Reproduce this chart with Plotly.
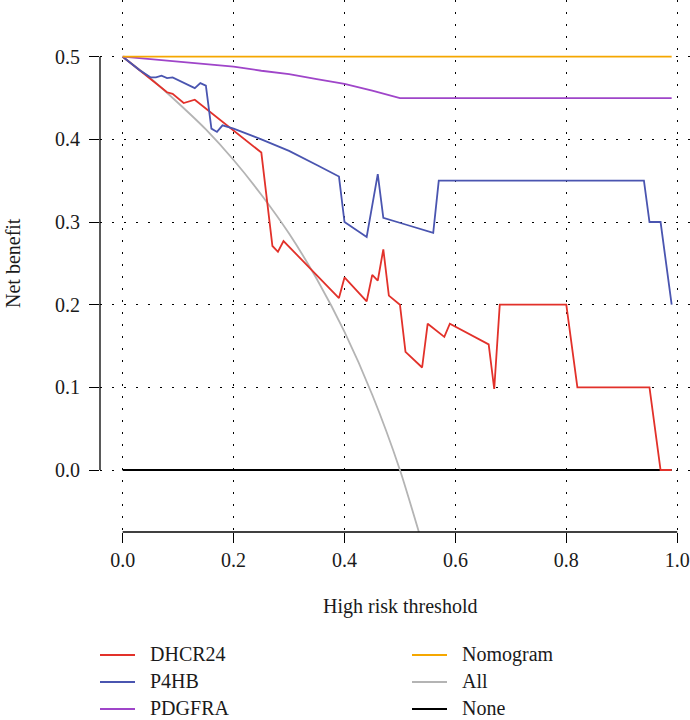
import plotly.graph_objects as go

# Decision curve data: threshold probability vs. net benefit
dhcr24_x = [0.00, 0.08, 0.09, 0.11, 0.13, 0.19, 0.22, 0.25, 0.27, 0.28, 0.29, 0.39, 0.40,
            0.44, 0.45, 0.46, 0.47, 0.48, 0.50, 0.51, 0.54, 0.55, 0.58, 0.59, 0.66, 0.67,
            0.68, 0.80, 0.82, 0.95, 0.97, 0.99]
dhcr24_y = [0.500, 0.457, 0.455, 0.444, 0.448, 0.416, 0.401, 0.384, 0.271, 0.264, 0.277, 0.208,
            0.233, 0.204, 0.236, 0.229, 0.267, 0.211, 0.200, 0.143, 0.124, 0.177, 0.161, 0.177,
            0.152, 0.098, 0.200, 0.200, 0.100, 0.100, 0.000, 0.000]

p4hb_x = [0.00, 0.03, 0.05, 0.06, 0.07, 0.08, 0.09, 0.13, 0.14, 0.15, 0.16, 0.17, 0.18, 0.20,
          0.25, 0.30, 0.35, 0.39, 0.40, 0.44, 0.46, 0.47, 0.51, 0.56, 0.57, 0.94, 0.95, 0.97, 0.99]
p4hb_y = [0.500, 0.484, 0.475, 0.475, 0.477, 0.474, 0.475, 0.462, 0.468, 0.465, 0.413, 0.409,
          0.417, 0.413, 0.400, 0.386, 0.369, 0.355, 0.300, 0.282, 0.358, 0.305, 0.297, 0.287,
          0.350, 0.350, 0.300, 0.300, 0.200]

pdgfra_x = [0.00, 0.05, 0.10, 0.15, 0.20, 0.25, 0.30, 0.35, 0.40, 0.45, 0.50, 0.99]
pdgfra_y = [0.500, 0.497, 0.494, 0.491, 0.488, 0.483, 0.479, 0.473, 0.467, 0.459, 0.450, 0.450]

nomogram_x = [0.00, 0.99]
nomogram_y = [0.500, 0.500]

all_x = [0.00, 0.05, 0.10, 0.15, 0.20, 0.25, 0.30, 0.35, 0.40, 0.45, 0.50, 0.55]
all_y = [0.500, 0.474, 0.444, 0.412, 0.375, 0.333, 0.286, 0.231, 0.167, 0.091, 0.000, -0.111]

none_x = [0.00, 0.99]
none_y = [0.000, 0.000]

x_ticks = [0.0, 0.2, 0.4, 0.6, 0.8, 1.0]
x_ticktext = ["0.0", "0.2", "0.4", "0.6", "0.8", "1.0"]
y_ticks = [0.0, 0.1, 0.2, 0.3, 0.4, 0.5]
y_ticktext = ["0.0", "0.1", "0.2", "0.3", "0.4", "0.5"]

x_title = "High risk threshold"
y_title = "Net benefit"

# name, x, y, colour, legend column, legend row, line shape
series = [
    ("None", none_x, none_y, "#000000", 1, 2, "linear"),
    ("All", all_x, all_y, "#B4B4B4", 1, 1, "spline"),
    ("DHCR24", dhcr24_x, dhcr24_y, "#E2312A", 0, 0, "linear"),
    ("P4HB", p4hb_x, p4hb_y, "#4A55B0", 0, 1, "linear"),
    ("PDGFRA", pdgfra_x, pdgfra_y, "#9F45C9", 0, 2, "linear"),
    ("Nomogram", nomogram_x, nomogram_y, "#F5A700", 1, 0, "linear"),
]

W, H = 690, 720
L, T, B = 100, 0, 188          # plot area: x 100..690, y 0..532
PW, PH = W - L, H - T - B
FONT = "Liberation Serif"
FS = 20


def px_x(p):
    return (p - L) / PW


def px_y(p):
    return (T + PH - p) / PH


fig = go.Figure()
for name, xs, ys, col, _, _, shape in series:
    fig.add_trace(go.Scatter(
        x=xs, y=ys, mode="lines", name=name, showlegend=False,
        line=dict(color=col, width=1.8, shape=shape, smoothing=0.6),
        hoverinfo="skip",
    ))

shapes = [
    # left axis line spanning the tick range only
    dict(type="line", xref="paper", yref="y", x0=0, x1=0, y0=0, y1=0.5,
         line=dict(color="black", width=1.3)),
    # bottom axis line spanning the tick range only
    dict(type="line", xref="x", yref="paper", x0=0, x1=1, y0=0, y1=0,
         line=dict(color="black", width=1.3)),
]
annotations = []

# two-column legend below the axes
col_x = [(100, 135, 148), (412, 447, 460)]
row_y = [655, 682, 709]
for name, _, _, col, c, r, _ in series:
    x0, x1, xt = col_x[c]
    yy = row_y[r]
    shapes.append(dict(type="line", xref="paper", yref="paper",
                       x0=px_x(x0), x1=px_x(x1), y0=px_y(yy), y1=px_y(yy),
                       line=dict(color=col, width=2)))
    annotations.append(dict(xref="paper", yref="paper", x=px_x(xt), y=px_y(yy - 1),
                            text=name, showarrow=False, xanchor="left", yanchor="middle",
                            font=dict(family=FONT, size=FS, color="#1a1a1a")))

annotations.append(dict(xref="paper", yref="paper", x=px_x(400), y=px_y(606),
                        text=x_title, showarrow=False, xanchor="center", yanchor="middle",
                        font=dict(family=FONT, size=FS, color="#1a1a1a")))
annotations.append(dict(xref="paper", yref="paper", x=px_x(13), y=px_y(263),
                        text=y_title, showarrow=False, xanchor="center", yanchor="middle",
                        textangle=-90, font=dict(family=FONT, size=FS, color="#1a1a1a")))

grid = dict(showgrid=True, gridcolor="black", gridwidth=1, griddash="2px,10px",
            zeroline=False, showline=False, ticks="outside", ticklen=10,
            tickwidth=1.3, tickcolor="black",
            tickfont=dict(family=FONT, size=FS, color="#1a1a1a"))

fig.update_layout(
    width=W, height=H,
    margin=dict(l=L, r=0, t=T, b=B, pad=0),
    paper_bgcolor="white", plot_bgcolor="white",
    xaxis=dict(range=[(L - 122.7) / 554.5, (W - 122.7) / 554.5],
               tickvals=x_ticks, ticktext=x_ticktext, ticklabelstandoff=0, **grid),
    yaxis=dict(range=[(470 - (T + PH)) / 826.6, (470 - T) / 826.6],
               tickvals=y_ticks, ticktext=y_ticktext, ticklabelstandoff=5, **grid),
    shapes=shapes,
    annotations=annotations,
)

fig.write_html("out.html")
